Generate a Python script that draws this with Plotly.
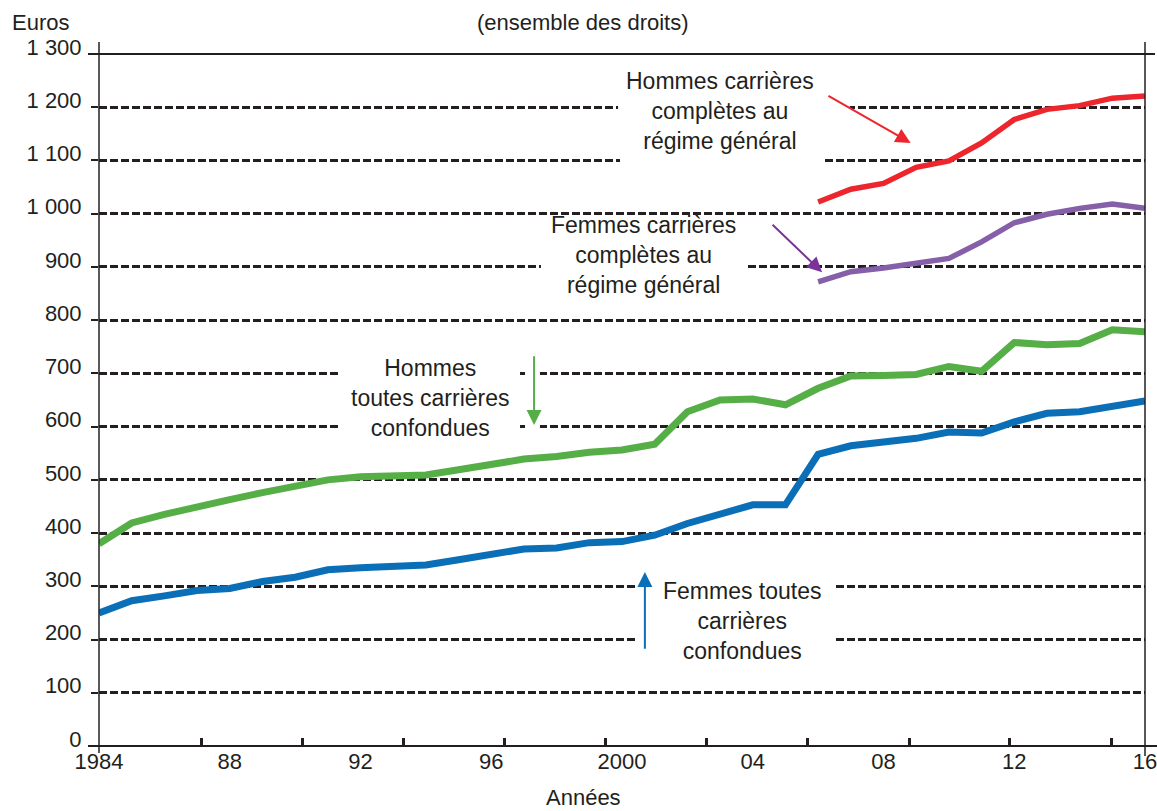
import plotly.graph_objects as go

# ---------------- data ----------------
years = list(range(1984, 2017))
years_cc = list(range(2006, 2017))

femmes_toutes = [250, 273, 282, 292, 296, 309, 317, 331, 335, 336, 340, 350, 361, 370,
                 372, 382, 384, 396, 418, 435, 453, 453, 548, 564, 572, 578, 590, 588,
                 609, 625, 628, 639, 648]
hommes_toutes = [380, 419, 435, 450, 463, 476, 487, 500, 506, 507, 509, 519, 530, 539,
                 544, 552, 556, 567, 628, 650, 652, 641, 672, 695, 696, 698, 713, 704,
                 758, 754, 756, 782, 778]
hommes_cc = [1022, 1046, 1057, 1087, 1099, 1133, 1177, 1196, 1203, 1217, 1221]
femmes_cc = [872, 891, 898, 906, 916, 947, 983, 999, 1010, 1018, 1010]

x_tick_vals = [1984, 1988, 1992, 1996, 2000, 2004, 2008, 2012, 2016]
x_tick_text = ["1984", "88", "92", "96", "2000", "04", "08", "12", "16"]
x_minor_ticks = [1987.14, 1990.22, 1993.33, 1996.42, 1999.51, 2002.57, 2005.66,
                 2008.78, 2011.84, 2014.99]
y_tick_vals = list(range(0, 1301, 100))
y_tick_text = ["0", "100", "200", "300", "400", "500", "600", "700", "800", "900",
               "1 000", "1 100", "1 200", "1 300"]

# ---------------- style ----------------
INK = "#231f20"
FONT = "Liberation Sans, Arial, Helvetica, sans-serif"
C_BLUE = "#0a6fb7"
C_GREEN = "#56ae47"
C_RED = "#ec262c"
C_PURPLE = "#8560a8"
C_PURPLE_ARROW = "#7a3398"

W, H = 1157, 811
ML, MR, MT, MB = 99, 12, 54, 65

fig = go.Figure()
fig.add_trace(go.Scatter(x=years, y=femmes_toutes, mode="lines",
                         line=dict(color=C_BLUE, width=7), hoverinfo="skip"))
fig.add_trace(go.Scatter(x=years, y=hommes_toutes, mode="lines",
                         line=dict(color=C_GREEN, width=7), hoverinfo="skip"))
fig.add_trace(go.Scatter(x=years_cc, y=hommes_cc, mode="lines",
                         line=dict(color=C_RED, width=5.5), hoverinfo="skip"))
fig.add_trace(go.Scatter(x=years_cc, y=femmes_cc, mode="lines",
                         line=dict(color=C_PURPLE, width=5.5), hoverinfo="skip"))

# white masks interrupting gridlines behind labels (between grid and traces)
masks = [
    (1991.40, 1996.88, 580, 720),
    (1997.12, 1997.49, 580, 720),
    (1999.88, 2006.97, 1180, 1220),
    (1999.94, 2006.12, 1080, 1120),
    (1997.52, 2003.82, 880, 920),
    (2000.43, 2006.52, 180, 320),
]
for x0, x1, y0, y1 in masks:
    fig.add_shape(type="rect", xref="x", yref="y", x0=x0, x1=x1, y0=y0, y1=y1,
                  fillcolor="white", line=dict(width=0), layer="between")

# frame lines (paper coordinates)
pw = W - ML - MR
ph = H - MT - MB
def px(xp):
    return (xp - ML) / pw
def py(yp):
    return (H - MB - yp) / ph

frame = [
    (px(88), 0, px(1157), 0, 2),          # x axis line
    (px(88), 1, px(1155), 1, 1.8),        # top solid line (1 300)
    (0, py(42), 0, py(753), 1.5),         # left axis
    (1, py(42), 1, py(756), 1.5),         # right line
]
for x0, y0, x1, y1, w in frame:
    fig.add_shape(type="line", xref="paper", yref="paper", x0=x0, y0=y0, x1=x1, y1=y1,
                  line=dict(color=INK, width=w), layer="above")

ann_font = dict(family=FONT, size=23, color=INK)
labels = [
    (2003.0, 1192, "Hommes carrières<br>complètes au<br>régime général"),
    (2000.67, 923, "Femmes carrières<br>complètes au<br>régime général"),
    (1994.13, 654, "Hommes<br>toutes carrières<br>confondues"),
    (2003.70, 235, "Femmes toutes<br>carrières<br>confondues"),
]
for x, y, t in labels:
    fig.add_annotation(x=x, y=y, xref="x", yref="y", text=t, showarrow=False,
                       xanchor="center", yanchor="middle", align="center", font=ann_font)

arrows = [
    (2008.83, 1133, 2006.27, 1223, C_RED),
    (2006.12, 890, 2004.56, 982, C_PURPLE_ARROW),
    (1997.31, 603, 1997.31, 735, C_GREEN),
    (2000.70, 327, 2000.70, 180, C_BLUE),
]
for hx, hy, tx, ty, c in arrows:
    fig.add_annotation(x=hx, y=hy, ax=tx, ay=ty, xref="x", yref="y", axref="x", ayref="y",
                       text="", showarrow=True, arrowhead=2, arrowsize=1.5,
                       arrowwidth=2, arrowcolor=c, standoff=0)

top_font = dict(family=FONT, size=22, color=INK)
fig.add_annotation(x=px(583), y=py(22), xref="paper", yref="paper",
                   text="(ensemble des droits)", showarrow=False,
                   xanchor="center", yanchor="middle", font=top_font)
fig.add_annotation(x=px(40), y=py(22), xref="paper", yref="paper",
                   text="Euros", showarrow=False,
                   xanchor="center", yanchor="middle", font=top_font)
fig.add_annotation(x=px(583), y=py(797), xref="paper", yref="paper",
                   text="Années", showarrow=False,
                   xanchor="center", yanchor="middle", font=top_font)

fig.update_layout(
    width=W, height=H,
    margin=dict(l=ML, r=MR, t=MT, b=MB, pad=0, autoexpand=False),
    paper_bgcolor="white", plot_bgcolor="white",
    showlegend=False,
    font=dict(family=FONT, size=22, color=INK),
    xaxis=dict(range=[1984, 2016], tickmode="array", tickvals=x_tick_vals,
               ticktext=x_tick_text, ticks="", showgrid=False, zeroline=False,
               showline=False, automargin=False, ticklabeloverflow="allow",
               tickfont=dict(family=FONT, size=22, color=INK),
               minor=dict(tickmode="array", tickvals=x_minor_ticks, ticks="inside",
                          ticklen=8, tickwidth=2.5, tickcolor=INK, showgrid=False)),
    yaxis=dict(range=[0, 1300], tickmode="array", tickvals=y_tick_vals,
               ticktext=y_tick_text, showgrid=True, gridcolor=INK, gridwidth=2.5,
               griddash="8px,3px", ticks="outside", ticklen=7, tickwidth=2,
               tickcolor=INK, zeroline=False, showline=False, automargin=False,
               ticklabelstandoff=5, ticklabelshift=-7, ticklabeloverflow="allow",
               tickfont=dict(family=FONT, size=22, color=INK)),
)

fig.write_html("out.html", config={"displayModeBar": False},
               post_script="document.body.style.margin='0';document.body.style.overflow='hidden';")
